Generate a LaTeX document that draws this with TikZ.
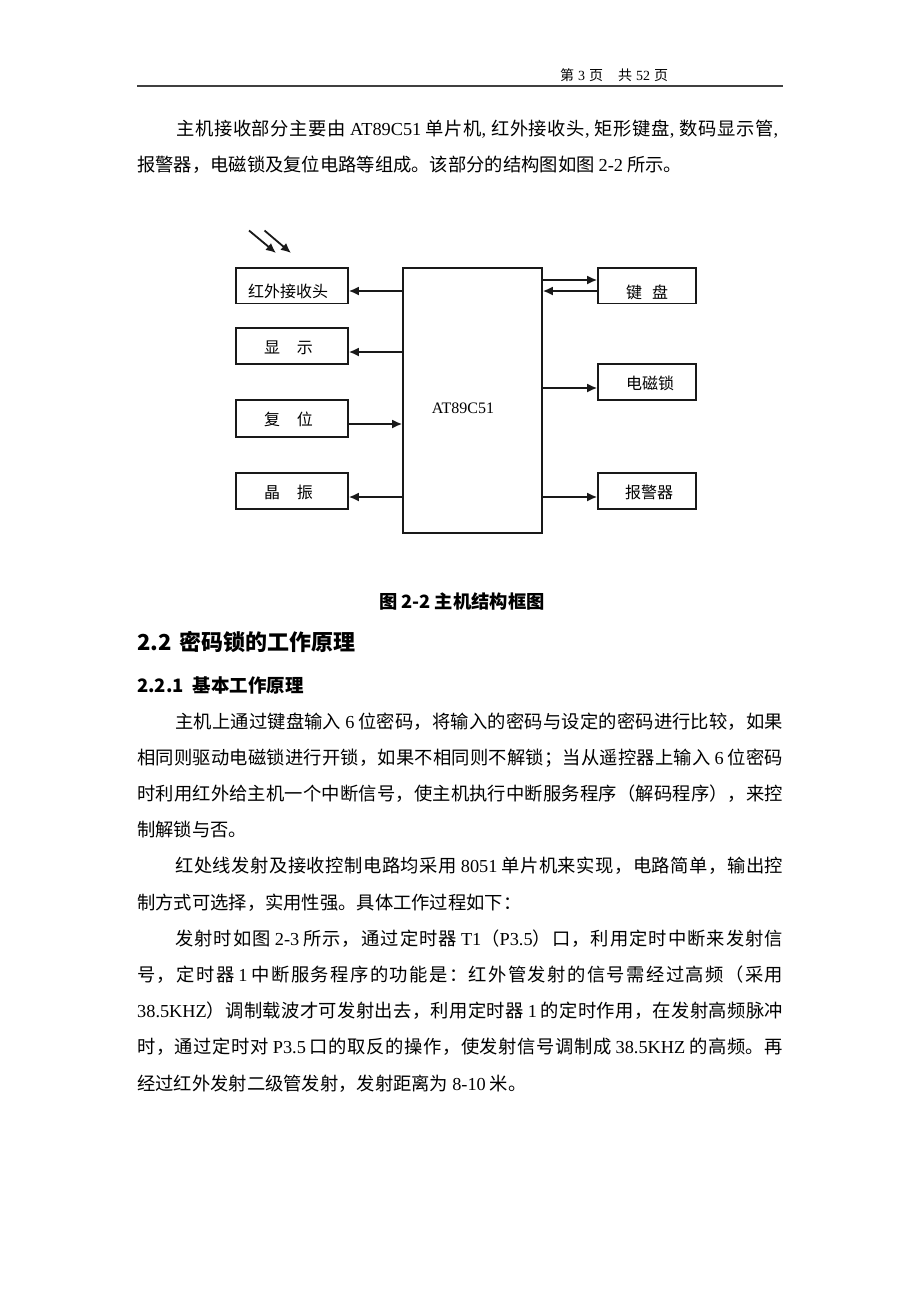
\documentclass[tikz,border=0pt]{standalone}
\usepackage{fontspec}
\setmainfont{Noto Sans CJK SC}
\newfontfamily\lat{Liberation Serif}
\usetikzlibrary{arrows.meta}
\newcommand\lt[1]{{\lat #1}}
\newcommand\gp{\hspace{4pt}}
\newcommand\hc{{\lat ,}\hspace{5pt}}
\newcommand\cjkglue{\hskip 0pt plus 2pt\relax}
\newcommand\cjkon{\XeTeXinterchartokenstate=1\relax}
\newcount\mycc
\mycc="4E00 \loop \XeTeXcharclass\mycc=1 \advance\mycc by 1 \ifnum\mycc<"A000 \repeat
\mycc="3001 \loop \XeTeXcharclass\mycc=1 \advance\mycc by 1 \ifnum\mycc<"3040 \repeat
\mycc="FF01 \loop \XeTeXcharclass\mycc=1 \advance\mycc by 1 \ifnum\mycc<"FF60 \repeat
\XeTeXinterchartoks 1 1 = {\cjkglue}
\begin{document}
\begin{tikzpicture}[x=1pt,y=-1pt,
  hdr/.style={anchor=base west, inner sep=0, font=\fontsize{14}{14}\selectfont},
  body/.style={anchor=base west, inner sep=0, font=\fontsize{18.3}{18.3}\selectfont\cjkon},
  blk/.style={draw=black!90, line width=1.6pt, inner sep=0},
  lbl/.style={inner sep=0, font=\fontsize{16}{16}\selectfont},
  arr/.style={line width=1.8pt, draw=black!90, -{Latex[length=10pt,width=9pt]}},
]
\useasboundingbox (0,0) rectangle (920,1302);
\fill[white] (0,0) rectangle (920,1302);

% header
\node[hdr] (hd) at (560,80) {第\gp{}\lt{3}\gp{}页\hspace{15pt}共\gp{}\lt{52}\gp{}页};
\coordinate (hl1) at (137,86);
\coordinate (hl2) at (783,86);
\draw[line width=1.8pt, black!75] (hl1) -- (hl2);

% paragraph 1
\node[body] (p1a) at (176,135) {\makebox[607pt][s]{主机接收部分主要由\gp{}\lt{AT89C51}\gp{}单片机\hc{}红外接收头\hc{}矩形键盘\hc{}数码显示管\hc{}}};
\node[body] (p1b) at (137,171) {报警器，电磁锁及复位电路等组成。该部分的结构图如图\gp{}\lt{2-2}\gp{}所示。};

% diagram boxes
\node[blk, minimum width=112pt, minimum height=35.5pt] (ir)  at (292,285.75) {};
\node[blk, minimum width=112pt, minimum height=36pt]   (disp) at (292,346) {};
\node[blk, minimum width=112pt, minimum height=37pt]   (rst) at (292,418.5) {};
\node[blk, minimum width=112pt, minimum height=36pt]   (osc) at (292,491) {};
\node[blk, minimum width=139pt, minimum height=265pt]  (mcu) at (472.5,400.5) {};
\node[blk, minimum width=98pt, minimum height=35.5pt]  (kbd) at (647,285.75) {};
\node[blk, minimum width=98pt, minimum height=36pt]    (lock) at (647,382) {};
\node[blk, minimum width=98pt, minimum height=36pt]    (alm) at (647,491) {};

% diagram labels
\node[lbl] (tir)  at (288,291) {红外接收头};
\node[lbl] (tdisp) at (288.5,348) {显\hspace{17pt}示};
\node[lbl] (trst) at (288.5,419) {复\hspace{17pt}位};
\node[lbl] (tosc) at (288.5,492) {晶\hspace{17pt}振};
\node[lbl] (tkbd) at (647,292) {键\hspace{10pt}盘};
\node[lbl] (tlock) at (650,383) {电磁锁};
\node[lbl] (talm) at (649,492) {报警器};
\node[lbl, font=\lat\fontsize{16}{16}\selectfont] (tmcu) at (463,408) {AT89C51};

% connector heights
\coordinate (ya) at (0,280);
\coordinate (yb) at (0,291);
\coordinate (yc) at (0,352);
\coordinate (yd) at (0,424);
\coordinate (ye) at (0,497);
\coordinate (yf) at (0,388);

\draw[arr] (mcu.west |- yb) -- (ir.east |- yb);
\draw[arr] (mcu.west |- yc) -- (disp.east |- yc);
\draw[arr] (rst.east |- yd) -- (mcu.west |- yd);
\draw[arr] (mcu.west |- ye) -- (osc.east |- ye);
\draw[arr] (mcu.east |- ya) -- (kbd.west |- ya);
\draw[arr] (kbd.west |- yb) -- (mcu.east |- yb);
\draw[arr] (mcu.east |- yf) -- (lock.west |- yf);
\draw[arr] (mcu.east |- ye) -- (alm.west |- ye);

% infrared rays
\coordinate (r1s) at (249,230.5);
\coordinate (r1e) at (276,253);
\coordinate (r2s) at (264.5,230.5);
\coordinate (r2e) at (291,253);
\draw[arr] (r1s) -- (r1e);
\draw[arr] (r2s) -- (r2e);

% caption and headings
\node[anchor=base, inner sep=0, font=\fontsize{18.3}{18.3}\selectfont\bfseries] (cap) at (462,608) {图\gp{}2-2\gp{}主机结构框图};
\node[anchor=base west, inner sep=0, font=\fontsize{22}{22}\selectfont\bfseries] (h1) at (137,650) {2.2\hspace{8pt}密码锁的工作原理};
\node[anchor=base west, inner sep=0, font=\fontsize{18.5}{18.5}\selectfont\bfseries] (h2) at (137,692) {2.2.1\hspace{9pt}基本工作原理};

% paragraph 2
\node[body] (p2a) at (175,728) {\makebox[608pt][s]{主机上通过键盘输入\gp{}\lt{6}\gp{}位密码，将输入的密码与设定的密码进行比较，如果}};
\node[body] (p2b) at (137,764.2) {\makebox[646pt][s]{相同则驱动电磁锁进行开锁，如果不相同则不解锁；当从遥控器上输入\gp{}\lt{6}\gp{}位密码}};
\node[body] (p2c) at (137,800.4) {\makebox[646pt][s]{时利用红外给主机一个中断信号，使主机执行中断服务程序（解码程序），来控}};
\node[body] (p2d) at (137,836.6) {制解锁与否。};

% paragraph 3
\node[body] (p3a) at (175,872.8) {\makebox[608pt][s]{红处线发射及接收控制电路均采用\gp{}\lt{8051}\gp{}单片机来实现，电路简单，输出控}};
\node[body] (p3b) at (137,909) {制方式可选择，实用性强。具体工作过程如下：};

% paragraph 4
\node[body] (p4a) at (175,945.2) {\makebox[608pt][s]{发射时如图\gp{}\lt{2-3}\gp{}所示，通过定时器\gp{}\lt{T1}（\lt{P3.5}）口，利用定时中断来发射信}};
\node[body] (p4b) at (137,981.4) {\makebox[646pt][s]{号，定时器\gp{}\lt{1}\gp{}中断服务程序的功能是：红外管发射的信号需经过高频（采用}};
\node[body] (p4c) at (137,1017.6) {\makebox[646pt][s]{\lt{38.5KHZ}）调制载波才可发射出去，利用定时器\gp{}\lt{1}\gp{}的定时作用，在发射高频脉冲}};
\node[body] (p4d) at (137,1053.8) {\makebox[646pt][s]{时，通过定时对\gp{}\lt{P3.5}\gp{}口的取反的操作，使发射信号调制成\gp{}\lt{38.5KHZ}\gp{}的高频。再}};
\node[body] (p4e) at (137,1090) {经过红外发射二级管发射，发射距离为\gp{}\lt{8-10}\gp{}米。};
\end{tikzpicture}
\end{document}
